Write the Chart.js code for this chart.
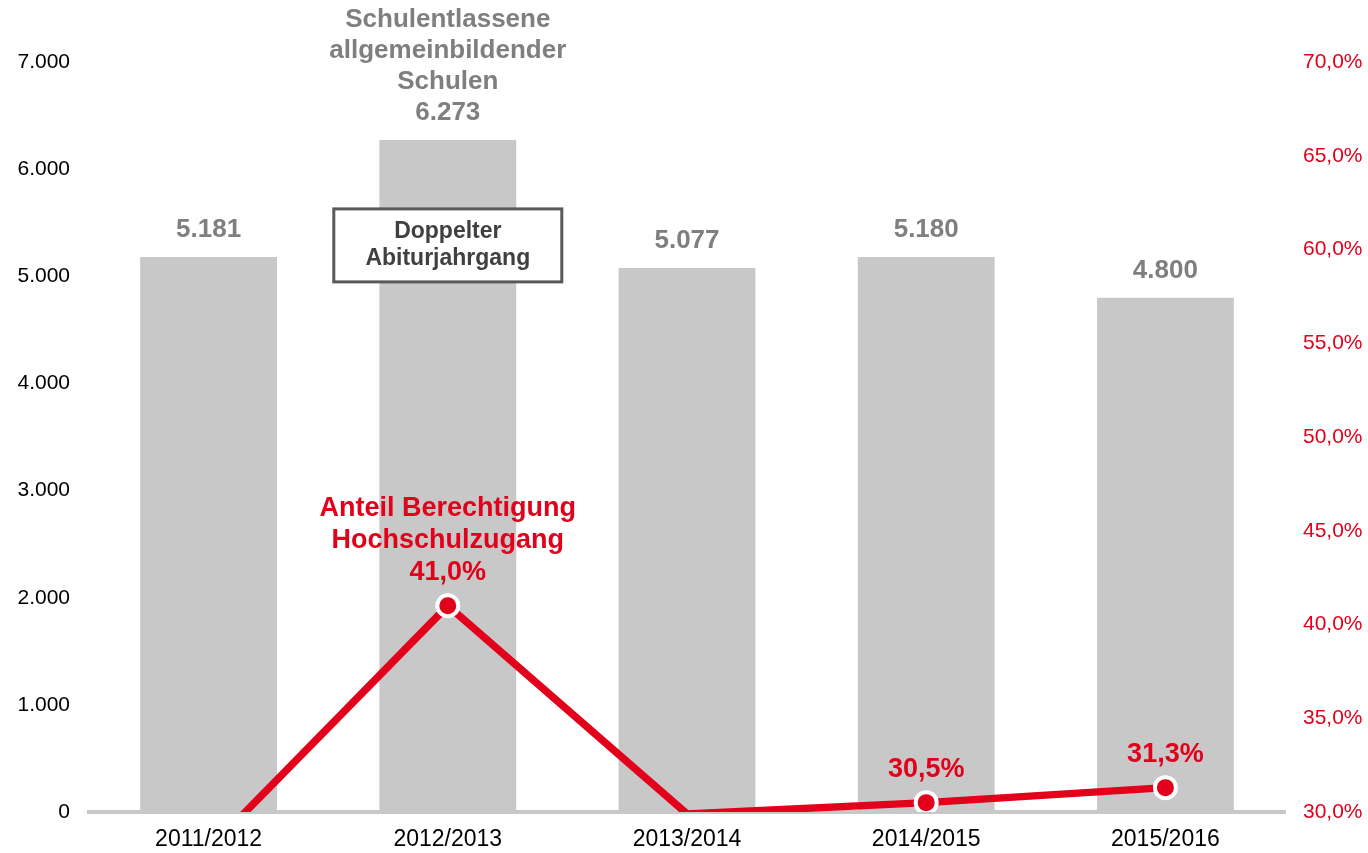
<!DOCTYPE html>
<html>
<head>
<meta charset="utf-8">
<script src="https://cdn.jsdelivr.net/npm/chart.js@4"></script>
<style>
  html, body { margin: 0; padding: 0; background: #fff; }
  #wrap { width: 1368px; height: 853px; }
</style>
</head>
<body>
<div id="wrap"><canvas id="myChart"></canvas></div>
<script>
const years = ['2011/2012', '2012/2013', '2013/2014', '2014/2015', '2015/2016']
const schulentlassene = [5181, 6273, 5077, 5180, 4800]
const anteilHochschulzugang = [28.0, 41.0, 29.9, 30.5, 31.3]
const barCaptions = ['', 'Schulentlassene\nallgemeinbildender\nSchulen', '', '', '']
const lineCaptions = ['', 'Anteil Berechtigung\nHochschulzugang', '', '', '']
const noteText = 'Doppelter\nAbiturjahrgang'
const noteIndex = 1

const RED = '#e2001a'
const GREY_BAR = '#c8c8c8'
const FONT = "'Liberation Sans', Arial, sans-serif"

function fmtThousands(v) {
    return String(v).replace(/\B(?=(\d{3})+(?!\d))/g, '.')
}
function fmtPercent(v) {
    return v.toFixed(1).replace('.', ',') + '%'
}

const ctx = document.getElementById('myChart')

Chart.defaults.font.family = FONT
Chart.defaults.animation = false

// draws the value labels and the note box
const labelPlugin = {
    id: 'labels',
    afterDatasetsDraw(chart) {
        const c = chart.ctx
        const barMeta = chart.getDatasetMeta(1)
        const lineMeta = chart.getDatasetMeta(0)
        const yPct = chart.scales.yPct
        c.save()
        c.textAlign = 'center'
        c.textBaseline = 'middle'

        // bar labels
        c.font = 'bold 26px ' + FONT
        c.fillStyle = '#7f7f7f'
        barMeta.data.forEach((bar, i) => {
            const lines = barCaptions[i] ? barCaptions[i].split('\n') : []
            lines.push(fmtThousands(schulentlassene[i]))
            let y = bar.y - 27
            for (let k = lines.length - 1; k >= 0; k--) {
                c.fillText(lines[k], bar.x, y)
                y -= 31
            }
        })

        // note box
        const nb = barMeta.data[noteIndex]
        const bw = 228, bh = 73
        const bx = nb.x - bw / 2, by = nb.y + 69
        c.fillStyle = '#ffffff'
        c.fillRect(bx, by, bw, bh)
        c.lineWidth = 3
        c.strokeStyle = '#595959'
        c.strokeRect(bx, by, bw, bh)
        c.fillStyle = '#404040'
        c.font = 'bold 23px ' + FONT
        noteText.split('\n').forEach((t, k) => {
            c.fillText(t, nb.x, by + 23 + k * 27)
        })

        // line labels
        c.font = 'bold 27px ' + FONT
        c.fillStyle = RED
        lineMeta.data.forEach((pt, i) => {
            if (anteilHochschulzugang[i] < yPct.min) return
            const lines = lineCaptions[i] ? lineCaptions[i].split('\n') : []
            lines.push(fmtPercent(anteilHochschulzugang[i]))
            let y = pt.y - 33
            for (let k = lines.length - 1; k >= 0; k--) {
                c.fillText(lines[k], pt.x, y)
                y -= 32
            }
        })
        c.restore()
    }
}

const chart = new Chart(ctx, {
    data: {
        labels: years,
        datasets: [{
            type: 'line',
            label: 'Anteil Berechtigung Hochschulzugang',
            data: anteilHochschulzugang,
            yAxisID: 'yPct',
            borderColor: RED,
            borderWidth: 7.5,
            backgroundColor: RED,
            pointBackgroundColor: RED,
            pointBorderColor: '#ffffff',
            pointBorderWidth: 4,
            pointRadius: (c) => c.raw < 30 ? 0 : 10.5,
            tension: 0,
            clip: 0,
            order: 0
        },
        {
            type: 'bar',
            label: 'Schulentlassene allgemeinbildender Schulen',
            data: schulentlassene,
            yAxisID: 'y',
            backgroundColor: GREY_BAR,
            barPercentage: 0.572,
            categoryPercentage: 1,
            order: 1
        }]
    },
    options: {
        responsive: true,
        maintainAspectRatio: false,
        layout: {
            padding: { top: 62, left: 0, right: 0, bottom: 0 }
        },
        plugins: {
            legend: { display: false },
            tooltip: { enabled: false }
        },
        scales: {
            x: {
                grid: { display: false, drawTicks: false },
                border: { display: true, color: GREY_BAR, width: 4 },
                ticks: { color: '#000', font: { size: 23 }, padding: 14, maxRotation: 0 },
                afterFit: (s) => { s.height = 41 }
            },
            y: {
                position: 'left',
                min: 0,
                max: 7000,
                grid: { display: false, drawTicks: false },
                border: { display: false },
                ticks: {
                    stepSize: 1000,
                    color: '#000',
                    font: { size: 21 },
                    padding: 19,
                    callback: (v) => fmtThousands(v)
                },
                afterFit: (s) => { s.width = 89 }
            },
            yPct: {
                position: 'right',
                min: 30,
                max: 70,
                grid: { display: false, drawTicks: false },
                border: { display: false },
                ticks: {
                    stepSize: 5,
                    color: RED,
                    font: { size: 21 },
                    padding: 18,
                    callback: (v) => fmtPercent(v)
                },
                afterFit: (s) => { s.width = 83 }
            }
        }
    },
    plugins: [labelPlugin]
})
</script>
</body>
</html>
